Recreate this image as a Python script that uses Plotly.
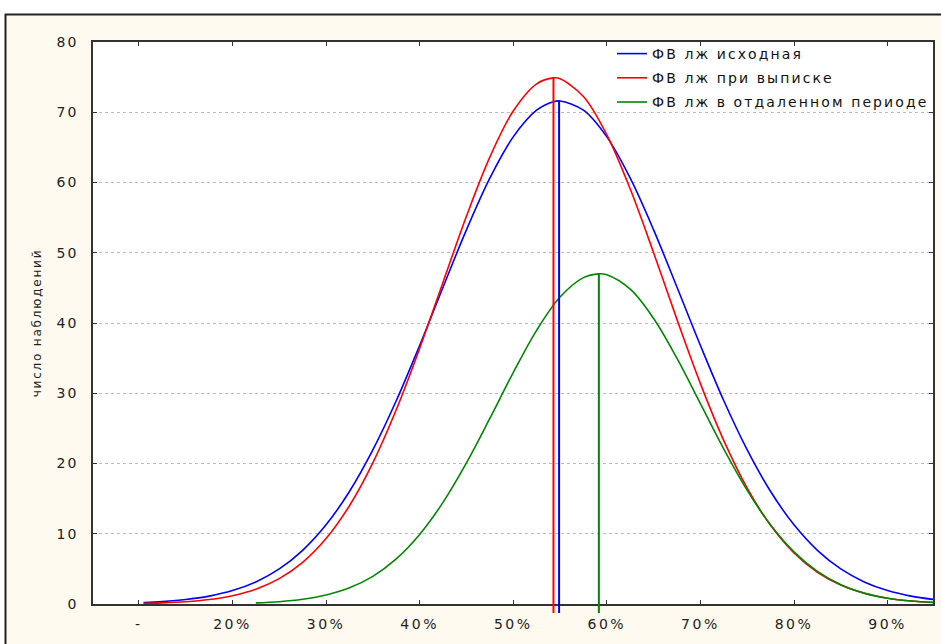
import plotly.graph_objects as go

# ---- data ----
x_main = [10.5, 12.5, 15, 17.5, 20, 22.5, 25, 27.5, 30, 32.5, 35, 37.5, 40, 42.5, 45,
          47.5, 50, 52.5, 54.3, 55, 57.5, 60, 62.5, 65, 67.5, 70, 72.5, 75, 77.5, 80,
          82.5, 85, 87.5, 90, 92.5, 95]
y_initial = [0.20, 0.34, 0.63, 1.12, 1.91, 3.14, 4.99, 7.64, 11.27, 16.01, 21.93, 28.93,
             36.80, 45.09, 53.26, 60.62, 66.49, 70.29, 71.5, 71.6, 70.29, 66.49, 60.62,
             53.26, 45.09, 36.80, 28.93, 21.93, 16.01, 11.27, 7.64, 4.99, 3.14, 1.91,
             1.12, 0.63]
y_discharge = [0.09, 0.16, 0.32, 0.63, 1.18, 2.11, 3.61, 5.93, 9.31, 13.99, 20.10, 27.65,
               36.38, 45.81, 55.19, 63.61, 70.17, 74.05, 74.9, 74.77, 72.24, 66.78,
               59.07, 50.00, 40.48, 31.37, 23.26, 16.49, 11.20, 7.27, 4.52, 2.69, 1.53,
               0.83, 0.43, 0.22]
x_late = [22.5, 25, 27.5, 30, 32.5, 35, 37.5, 40, 42.5, 45, 47.5, 50, 52.5, 55, 57.5,
          59.15, 60, 62.5, 65, 67.5, 70, 72.5, 75, 77.5, 80, 82.5, 85, 87.5, 90, 92.5, 95]
y_late = [0.16, 0.33, 0.67, 1.27, 2.30, 3.94, 6.42, 9.90, 14.47, 20.08, 26.41, 32.93,
          38.95, 43.69, 46.46, 47.0, 46.86, 44.81, 40.64, 34.95, 28.51, 22.04, 16.17,
          11.24, 7.42, 4.64, 2.75, 1.55, 0.82, 0.42, 0.20]

series_names = ["ФВ лж исходная", "ФВ лж при выписке", "ФВ лж в отдаленном периоде"]
series_colors = ["#0000FF", "#FF0000", "#008800"]
mean_x = [54.9, 54.3, 59.15]
mean_peak = [71.6, 74.9, 47.0]

x_tickvals = [10, 20, 30, 40, 50, 60, 70, 80, 90]
x_ticktext = ["-", "20%", "30%", "40%", "50%", "60%", "70%", "80%", "90%"]
y_tickvals = [0, 10, 20, 30, 40, 50, 60, 70, 80]
y_ticktext = ["0", "10", "20", "30", "40", "50", "60", "70", "80"]
y_title = "число наблюдений"


def spaced(s, sp):
    return '<span style="letter-spacing:%spx">%s</span>' % (sp, s)


# ---- figure ----
fig = go.Figure()
xs = [x_main, x_main, x_late]
ys = [y_initial, y_discharge, y_late]
for i in range(3):
    fig.add_trace(go.Scatter(
        x=xs[i], y=ys[i], mode="lines", name=spaced(series_names[i], 2.1),
        line=dict(color=series_colors[i], width=1.6, shape="spline"),
        legendgroup="g%d" % i,
    ))

shapes = []
# vertical mean lines
for i in range(3):
    shapes.append(dict(type="line", xref="x", yref="y", x0=mean_x[i], x1=mean_x[i],
                       y0=0, y1=mean_peak[i],
                       line=dict(color=series_colors[i], width=2)))
    shapes.append(dict(type="line", xref="x", yref="paper", x0=mean_x[i], x1=mean_x[i],
                       y0=-0.016, y1=0,
                       line=dict(color=series_colors[i], width=2)))

# frame decoration (white strip top/left, dark border)
W, H = 941, 644
L, R, T, B = 93, 8, 42, 40
pw, ph = W - L - R, H - T - B


def px_x(p):
    return (p - L) / pw


def px_y(p):
    return (H - B - p) / ph


shapes.append(dict(type="rect", xref="paper", yref="paper", layer="below",
                   x0=px_x(-10), x1=px_x(W + 10), y0=px_y(14), y1=px_y(-10),
                   fillcolor="white", line=dict(width=0)))
shapes.append(dict(type="rect", xref="paper", yref="paper", layer="below",
                   x0=px_x(-10), x1=px_x(5), y0=px_y(H + 10), y1=px_y(-10),
                   fillcolor="white", line=dict(width=0)))
shapes.append(dict(type="line", xref="paper", yref="paper",
                   x0=px_x(5), x1=px_x(W + 10), y0=px_y(14.5), y1=px_y(14.5),
                   line=dict(color="#222222", width=2)))
shapes.append(dict(type="line", xref="paper", yref="paper",
                   x0=px_x(5.5), x1=px_x(5.5), y0=px_y(14), y1=px_y(H + 10),
                   line=dict(color="#222222", width=2)))

tick_font = dict(family="DejaVu Sans, sans-serif", size=14, color="#222222")

fig.update_layout(
    width=W, height=H,
    margin=dict(l=L, r=R, t=T, b=B, pad=0, autoexpand=False),
    paper_bgcolor="#FFFAF0",
    plot_bgcolor="white",
    font=dict(family="DejaVu Sans, sans-serif", size=13, color="#222222"),
    shapes=shapes,
    showlegend=True,
    legend=dict(
        xref="container", yref="container",
        x=612 / W, y=1 - 38 / H, xanchor="left", yanchor="top",
        bgcolor="rgba(0,0,0,0)", borderwidth=0,
        font=dict(family="DejaVu Sans, sans-serif", size=14, color="#111111"),
        traceorder="grouped", tracegroupgap=3,
    ),
    xaxis=dict(
        range=[5.1, 94.85], tickmode="array", tickvals=x_tickvals,
        ticktext=[spaced(t, 2.5) for t in x_ticktext], tickfont=tick_font,
        showgrid=False, zeroline=False,
        showline=True, linecolor="#333333", linewidth=2, mirror="ticks",
        ticks="inside", ticklen=4, tickcolor="#333333", tickwidth=1,
        ticklabelstandoff=6,
    ),
    yaxis=dict(
        range=[0, 80], tickmode="array", tickvals=y_tickvals,
        ticktext=[spaced(t, 2) for t in y_ticktext], tickfont=tick_font,
        showgrid=True, gridcolor="#BBBBBB", griddash="dot", gridwidth=1,
        zeroline=False,
        showline=True, linecolor="#333333", linewidth=1.5, mirror="ticks",
        ticks="inside", ticklen=4, tickcolor="#333333", tickwidth=1,
        ticklabelstandoff=10,
        title=dict(text=spaced(y_title, 1.8), standoff=12,
                   font=dict(family="DejaVu Sans, sans-serif", size=12, color="#222222")),
    ),
)

fig.write_html("out.html", config={"displayModeBar": False},
               post_script="document.body.style.margin='0';")
